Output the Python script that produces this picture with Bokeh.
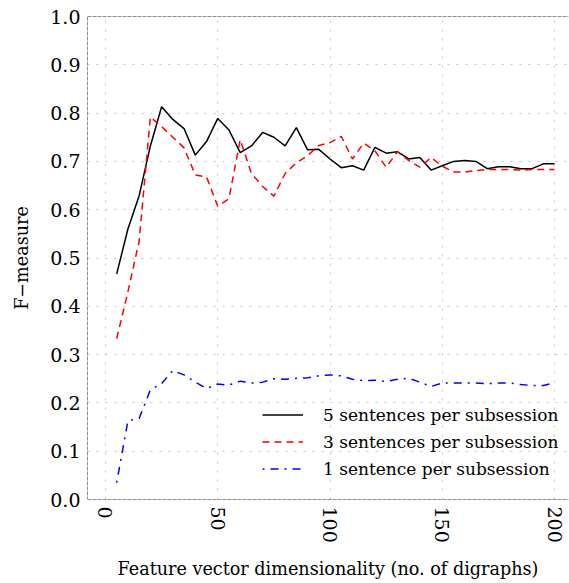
from bokeh.plotting import figure
from bokeh.models import FixedTicker, Span, Legend, LegendItem, PrintfTickFormatter
from bokeh.embed import file_html
from bokeh.resources import INLINE

dims = [5, 10, 15, 20, 25, 30, 35, 40, 45, 50, 55, 60, 65, 70, 75, 80, 85, 90, 95, 100,
        105, 110, 115, 120, 125, 130, 135, 140, 145, 150, 155, 160, 165, 170, 175, 180, 185, 190, 195, 200]

f_5sent = [0.467, 0.560, 0.629, 0.732, 0.813, 0.787, 0.768, 0.713, 0.741, 0.789,
           0.765, 0.718, 0.732, 0.760, 0.750, 0.732, 0.770, 0.724, 0.725, 0.705,
           0.687, 0.691, 0.682, 0.729, 0.717, 0.720, 0.705, 0.708, 0.682, 0.691,
           0.700, 0.702, 0.700, 0.685, 0.689, 0.689, 0.685, 0.685, 0.695, 0.695]

f_3sent = [0.333, 0.430, 0.535, 0.792, 0.772, 0.750, 0.728, 0.672, 0.668, 0.607,
           0.623, 0.745, 0.675, 0.648, 0.628, 0.675, 0.697, 0.712, 0.733, 0.739,
           0.752, 0.705, 0.738, 0.722, 0.688, 0.720, 0.702, 0.688, 0.708, 0.690,
           0.678, 0.678, 0.681, 0.683, 0.683, 0.683, 0.682, 0.683, 0.683, 0.683]

f_1sent = [0.035, 0.163, 0.168, 0.227, 0.240, 0.267, 0.258, 0.243, 0.230, 0.239,
           0.237, 0.245, 0.241, 0.243, 0.250, 0.249, 0.251, 0.252, 0.256, 0.258,
           0.256, 0.249, 0.246, 0.247, 0.244, 0.249, 0.251, 0.243, 0.234, 0.241,
           0.241, 0.241, 0.241, 0.240, 0.241, 0.241, 0.238, 0.236, 0.236, 0.242]

series_labels = ["5 sentences per subsession", "3 sentences per subsession", "1 sentence per subsession"]
x_ticks = [0, 50, 100, 150, 200]
y_ticks = [0.0, 0.1, 0.2, 0.3, 0.4, 0.5, 0.6, 0.7, 0.8, 0.9, 1.0]
x_title = "Feature vector dimensionality (no. of digraphs)"
y_title = "F\u2212measure"

FONT = "DejaVu Serif"

p = figure(width=569, height=581, x_range=(-8.0, 206.2), y_range=(0.0, 1.0),
           output_backend="svg", toolbar_location=None,
           min_border_left=87, min_border_right=1, min_border_top=16, min_border_bottom=80)
p.outline_line_color = None
p.background_fill_color = "white"

p.xaxis.ticker = FixedTicker(ticks=x_ticks)
p.yaxis.ticker = FixedTicker(ticks=y_ticks)
p.yaxis.formatter = PrintfTickFormatter(format="%.1f")
p.xgrid.ticker = FixedTicker(ticks=x_ticks)
p.ygrid.ticker = FixedTicker(ticks=y_ticks)
for g in (p.xgrid, p.ygrid):
    g.grid_line_color = "#c4c4c4"
    g.grid_line_dash = "2 7"
    g.grid_line_width = 1

for ax in (p.xaxis, p.yaxis):
    ax.axis_line_color = None
    ax.major_tick_line_color = None
    ax.minor_tick_line_color = None
    ax.major_tick_out = 0
    ax.major_tick_in = 0
    ax.minor_tick_out = 0
    ax.major_label_text_font = FONT
    ax.major_label_text_font_size = "19px"
    ax.major_label_text_color = "black"
    ax.major_label_standoff = 7
    ax.axis_label_text_font = FONT
    ax.axis_label_text_font_size = "17.6px"
    ax.axis_label_text_font_style = "normal"
    ax.axis_label_text_color = "black"

p.xaxis.major_label_orientation = "vertical"
p.xaxis.axis_label = x_title
p.xaxis.axis_label_standoff = 13
p.yaxis.axis_label = y_title
p.yaxis.axis_label_standoff = 15

for loc, dim in ((1.0, "width"), (0.0, "width"), (-8.0, "height")):
    p.add_layout(Span(location=loc, dimension=dim, line_color="#222222",
                      line_width=1, line_dash="4 1"))

r5 = p.line(dims, f_5sent, line_color="black", line_width=1.5)
r3 = p.line(dims, f_3sent, line_color="red", line_width=1.5, line_dash="7 5")
r1 = p.line(dims, f_1sent, line_color="blue", line_width=1.5, line_dash="2 6 8 6")

legend = Legend(items=[LegendItem(label=series_labels[0], renderers=[r5]),
                       LegendItem(label=series_labels[1], renderers=[r3]),
                       LegendItem(label=series_labels[2], renderers=[r1])],
                location=(175, 17), padding=0, margin=0, spacing=0,
                glyph_width=41, glyph_height=27, label_height=27, label_standoff=20,
                background_fill_alpha=0, border_line_alpha=0,
                label_text_font=FONT, label_text_font_size="17px", label_text_color="black")
p.add_layout(legend)

open("out.html", "w").write(file_html(p, INLINE))
